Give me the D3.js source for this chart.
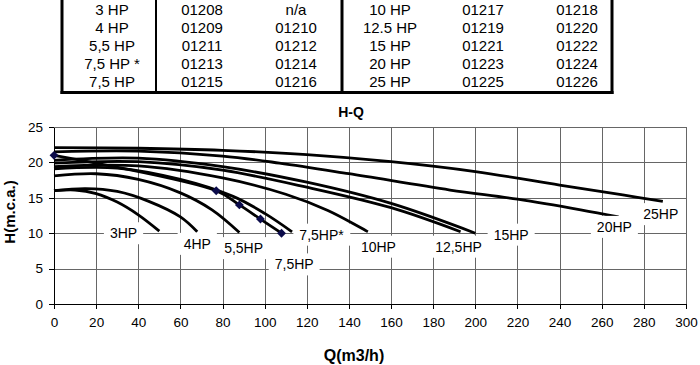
<!DOCTYPE html>
<html>
<head>
<meta charset="utf-8">
<script src="https://cdn.jsdelivr.net/npm/d3@7"></script>
<style>
  body { margin: 0; background: #fff; }
  svg { display: block; font-family: "Liberation Sans", Arial, sans-serif; }
  .grid line { stroke: #666; stroke-width: 1; shape-rendering: crispEdges; }
  .axis path, .axis line { stroke: #000; shape-rendering: crispEdges; }
  .axis text { font-size: 13.5px; fill: #000; }
  .curve { fill: none; stroke: #000; stroke-width: 2.8; }
  .tbl text { font-size: 15px; fill: #000; }
</style>
</head>
<body>
<svg id="chart" width="700" height="365"></svg>
<script>
// ----- Table data ------------------------------------------------------------
var tableHpLeft = ['3 HP', '4 HP', '5,5 HP', '7,5 HP *', '7,5 HP'];
var tableCodeALeft = ['01208', '01209', '01211', '01213', '01215'];
var tableCodeBLeft = ['n/a', '01210', '01212', '01214', '01216'];
var tableHpRight = ['10 HP', '12.5 HP', '15 HP', '20 HP', '25 HP'];
var tableCodeARight = ['01217', '01219', '01221', '01223', '01225'];
var tableCodeBRight = ['01218', '01220', '01222', '01224', '01226'];

// ----- Curve data (Q m3/h, H m.c.a.) -----------------------------------------
var curveNames = ['3HP', '4HP', '5,5HP', '7,5HP*', '7,5HP', '10HP', '12,5HP', '15HP', '20HP', '25HP'];
var curveQ = [
  [0, 10, 20, 30, 40, 50],
  [0, 15, 30, 45, 60, 68],
  [0, 20, 40, 60, 75, 88],
  [0, 30, 60, 85, 100, 113],
  [0, 77, 88, 98, 108],
  [0, 40, 80, 110, 130, 149],
  [0, 40, 80, 120, 160, 193],
  [0, 40, 80, 120, 160, 200],
  [0, 40, 80, 107, 140, 188, 220, 250, 268],
  [0, 40, 80, 120, 160, 200, 240, 270, 289]
];
var curveH = [
  [16.0, 16.1, 15.6, 14.4, 12.6, 10.3],
  [16.0, 16.3, 15.9, 14.5, 12.3, 10.2],
  [18.1, 18.4, 17.6, 15.7, 13.3, 10.1],
  [19.1, 19.2, 17.6, 15.2, 12.8, 10.2],
  [21.0, 16.0, 14.0, 12.0, 10.0],
  [19.4, 19.5, 17.8, 15.5, 13.2, 10.2],
  [19.9, 20.1, 18.9, 16.5, 13.6, 10.2],
  [20.3, 20.6, 19.4, 17.2, 14.2, 10.0],
  [21.5, 21.6, 20.9, 19.9, 18.4, 16.1, 14.8, 13.3, 12.3],
  [22.1, 22.0, 21.7, 21.1, 20.1, 18.7, 16.8, 15.4, 14.5]
];
var markerSeries = '7,5HP';

var xTicks = d3.range(0, 301, 20);
var yTicks = d3.range(0, 26, 5);

// label anchor points in data units (Q, H)
var labelQ = [33, 68, 90, 127, 114, 154, 192, 217, 266, 288];
var labelH = [10.0, 8.5, 7.9, 9.8, 5.6, 8.1, 8.1, 9.8, 10.9, 12.7];

// ----- SVG setup -------------------------------------------------------------
var svg = d3.select('#chart');
var x = d3.scaleLinear().domain([0, 300]).range([54, 686]);
var y = d3.scaleLinear().domain([0, 25]).range([304, 127]);

// ----- Table -----------------------------------------------------------------
var tbl = svg.append('g').attr('class', 'tbl');
var rowY = d3.scaleBand().domain(d3.range(5)).range([0, 91]);
var colX = [112, 202, 296, 390, 483, 577];
var columns = [tableHpLeft, tableCodeALeft, tableCodeBLeft, tableHpRight, tableCodeARight, tableCodeBRight];

columns.forEach(function(col, ci) {
  tbl.selectAll('.c' + ci)
      .data(col)
    .enter().append('text')
      .attr('x', colX[ci])
      .attr('y', function(d, i) { return rowY(i) + rowY.bandwidth() / 2; })
      .attr('dy', '0.36em')
      .attr('text-anchor', 'middle')
      .text(function(d) { return d; });
});

var borders = [
  { x: 62, w: 3 }, { x: 156, w: 2 }, { x: 342, w: 3 }, { x: 612, w: 3 }
];
borders.forEach(function(b) {
  tbl.append('line')
      .attr('x1', b.x).attr('x2', b.x).attr('y1', 0).attr('y2', 94)
      .attr('stroke', '#000').attr('stroke-width', b.w);
});
tbl.append('line')
    .attr('x1', 60.5).attr('x2', 613.5).attr('y1', 92.5).attr('y2', 92.5)
    .attr('stroke', '#000').attr('stroke-width', 3);

// ----- Title & axis titles ---------------------------------------------------
svg.append('text')
    .attr('x', 351).attr('y', 117)
    .attr('text-anchor', 'middle')
    .style('font-weight', 'bold').style('font-size', '14px')
    .text('H-Q');

svg.append('text')
    .attr('transform', 'translate(15,212) rotate(-90)')
    .attr('text-anchor', 'middle')
    .style('font-weight', 'bold').style('font-size', '15px')
    .text('H(m.c.a.)');

svg.append('text')
    .attr('x', 354).attr('y', 361)
    .attr('text-anchor', 'middle')
    .style('font-weight', 'bold').style('font-size', '16px')
    .text('Q(m3/h)');

// ----- Grid ------------------------------------------------------------------
var grid = svg.append('g').attr('class', 'grid');
grid.selectAll('.v')
    .data(xTicks.slice(1))
  .enter().append('line')
    .attr('x1', function(d) { return Math.round(x(d)) + 0.5; })
    .attr('x2', function(d) { return Math.round(x(d)) + 0.5; })
    .attr('y1', y(25)).attr('y2', y(0))
    .attr('stroke', function(d) { return d === 300 ? '#000' : null; });
grid.selectAll('.h')
    .data(yTicks.slice(1))
  .enter().append('line')
    .attr('x1', x(0)).attr('x2', x(300))
    .attr('y1', function(d) { return Math.round(y(d)) + 0.5; })
    .attr('y2', function(d) { return Math.round(y(d)) + 0.5; })
    .attr('stroke', function(d) { return d === 25 ? '#000' : null; });

// ----- Axes ------------------------------------------------------------------
svg.append('g')
    .attr('class', 'axis')
    .attr('transform', 'translate(0,' + y(0) + ')')
    .call(d3.axisBottom(x).tickValues(xTicks).tickSize(5).tickPadding(8).tickSizeOuter(0));

svg.append('g')
    .attr('class', 'axis')
    .attr('transform', 'translate(' + x(0) + ',0)')
    .call(d3.axisLeft(y).tickValues(yTicks).tickSize(5).tickPadding(6).tickSizeOuter(0));

// ----- Curves ----------------------------------------------------------------
var line = d3.line()
    .x(function(d) { return x(d[0]); })
    .y(function(d) { return y(d[1]); })
    .curve(d3.curveCatmullRom.alpha(0.5));

var series = curveNames.map(function(name, i) {
  return { name: name, pts: curveQ[i].map(function(q, j) { return [q, curveH[i][j]]; }) };
});

svg.append('g').selectAll('path')
    .data(series)
  .enter().append('path')
    .attr('class', 'curve')
    .attr('d', function(d) { return line(d.pts); });

var marked = series.filter(function(s) { return s.name === markerSeries; })[0];
svg.append('g').selectAll('path')
    .data(marked.pts)
  .enter().append('path')
    .attr('d', d3.symbol().type(d3.symbolDiamond2).size(50))
    .attr('transform', function(d) { return 'translate(' + x(d[0]) + ',' + y(d[1]) + ')'; })
    .attr('fill', '#0b0b4a');

// ----- Curve labels ----------------------------------------------------------
var labels = svg.append('g');
curveNames.forEach(function(name, i) {
  var g = labels.append('g')
      .attr('transform', 'translate(' + x(labelQ[i]) + ',' + y(labelH[i]) + ')');
  var rect = g.append('rect').attr('fill', '#fff');
  var t = g.append('text')
      .attr('text-anchor', 'middle')
      .attr('dy', '0.36em')
      .style('font-size', '14px')
      .text(name);
  var bb = t.node().getBBox();
  rect.attr('x', bb.x - 6).attr('y', bb.y - 3)
      .attr('width', bb.width + 12).attr('height', bb.height + 6);
});
</script>
</body>
</html>
